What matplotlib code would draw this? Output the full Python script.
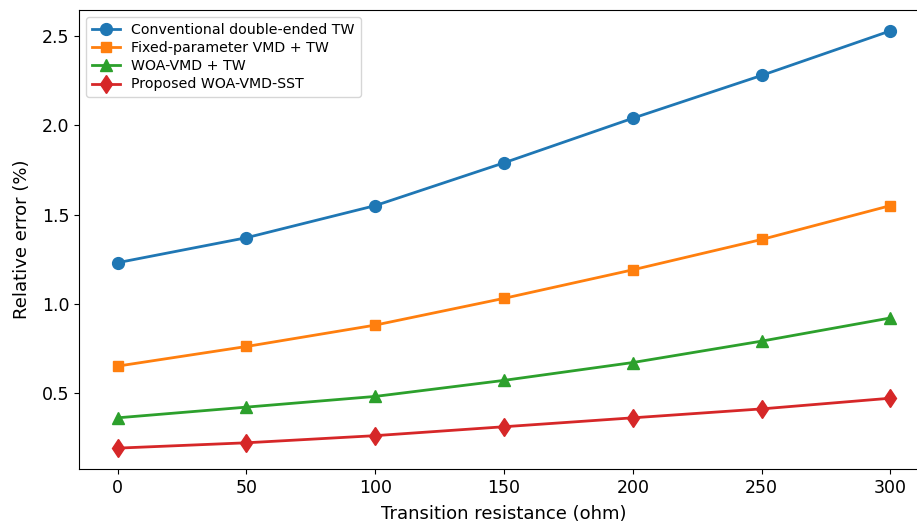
import matplotlib
matplotlib.use('Agg')
from matplotlib import pyplot as plt

resistance = [0, 50, 100, 150, 200, 250, 300]
conventional = [1.23, 1.37, 1.55, 1.79, 2.04, 2.28, 2.53]
fixed_vmd = [0.65, 0.76, 0.88, 1.03, 1.19, 1.36, 1.55]
woa_vmd = [0.36, 0.42, 0.48, 0.57, 0.67, 0.79, 0.92]
proposed = [0.19, 0.22, 0.26, 0.31, 0.36, 0.41, 0.47]

fig = plt.figure(figsize=(9.17, 5.29), dpi=100)
ax = fig.add_axes([79 / 917, 60 / 529, 850 / 917, 459 / 529])

ax.plot(resistance, conventional, marker='o', markersize=8.5, linewidth=2, label='Conventional double-ended TW')
ax.plot(resistance, fixed_vmd, marker='s', markersize=7.5, linewidth=2, label='Fixed-parameter VMD + TW')
ax.plot(resistance, woa_vmd, marker='^', markersize=8.5, linewidth=2, label='WOA-VMD + TW')
ax.plot(resistance, proposed, marker='d', markersize=9.5, linewidth=2, label='Proposed WOA-VMD-SST')

ax.set_xticks(resistance)
ax.tick_params(labelsize=12.5)
ax.set_xlabel('Transition resistance (ohm)', fontsize=13, labelpad=6)
ax.set_ylabel('Relative error (%)', fontsize=13, labelpad=8)
ax.legend(loc='upper left', fontsize=10.2, labelspacing=0.3)

fig.savefig('out.png', dpi=100)
